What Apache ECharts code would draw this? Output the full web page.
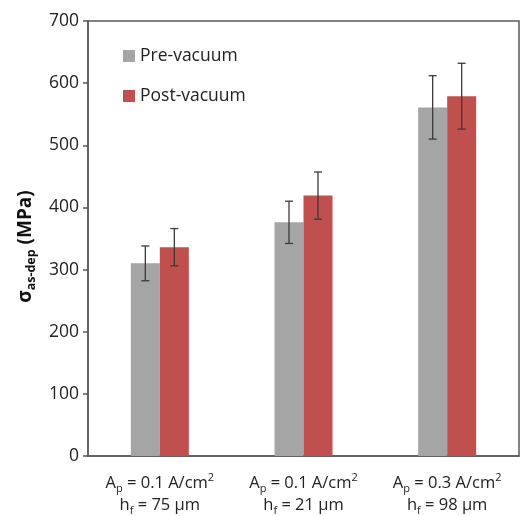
<!DOCTYPE html>
<html>
<head>
<meta charset="utf-8">
<script src="https://cdn.jsdelivr.net/npm/echarts@6/dist/echarts.min.js"></script>
<style>
  html, body { margin: 0; padding: 0; background: #fff; }
  #chart { width: 521px; height: 516px; }
</style>
</head>
<body>
<div id="chart"></div>
<script>
// categories: [Ap, hf]
const categories = [
  ['0.1', '75'],
  ['0.1', '21'],
  ['0.3', '98']
];
const preMean = [310, 376, 561];
const preErr = [28, 34, 51];
const postMean = [336, 419, 579];
const postErr = [30, 38, 53];
const yTicks = { min: 0, max: 700, interval: 100 };

const BAR_W = 29;
const FONT = '"Open Sans", "Noto Sans", sans-serif';

const chart = echarts.init(document.getElementById('chart'));

// error bars
function errorSeries(mean, err, shift) {
  return {
    type: 'custom',
    silent: true,
    z: 5,
    data: mean.map((m, i) => [i, m - err[i], m + err[i]]),
    renderItem: function (params, api) {
      const lo = api.coord([api.value(0), api.value(1)]);
      const hi = api.coord([api.value(0), api.value(2)]);
      const x = lo[0] + shift;
      const cap = 4;
      const style = { stroke: '#3a3a3a', lineWidth: 1.3 };
      return {
        type: 'group',
        children: [
          { type: 'line', shape: { x1: x, y1: lo[1], x2: x, y2: hi[1] }, style: style },
          { type: 'line', shape: { x1: x - cap, y1: lo[1], x2: x + cap, y2: lo[1] }, style: style },
          { type: 'line', shape: { x1: x - cap, y1: hi[1], x2: x + cap, y2: hi[1] }, style: style }
        ]
      };
    }
  };
}

chart.setOption({
  animation: false,
  textStyle: { fontFamily: FONT },
  grid: {
    left: 88,
    right: 2,
    top: 21,
    bottom: 60,
    show: true,
    borderColor: '#5a5a5a',
    borderWidth: 1.5
  },
  legend: {
    orient: 'vertical',
    left: 118,
    top: 42,
    itemWidth: 12,
    itemHeight: 12,
    itemGap: 22,
    icon: 'rect',
    textStyle: { fontSize: 17.5, color: '#222', fontFamily: FONT },
    data: ['Pre-vacuum', 'Post-vacuum']
  },
  xAxis: {
    type: 'category',
    data: categories.map((c, i) => i),
    axisLine: { lineStyle: { color: '#5a5a5a', width: 1.5 } },
    axisTick: { show: false },
    axisLabel: {
      margin: 16,
      interval: 0,
      formatter: function (v) {
        const c = categories[v];
        return '{t|A}{sub|p}{t| = ' + c[0] + ' A/cm}{sup|2}\n{t|h}{sub|f}{t| = ' + c[1] + ' µm}';
      },
      rich: {
        t: { fontSize: 16.5, color: '#222', fontFamily: FONT, lineHeight: 22 },
        sub: { fontSize: 11, color: '#222', fontFamily: FONT, verticalAlign: 'bottom', lineHeight: 14 },
        sup: { fontSize: 11, color: '#222', fontFamily: FONT, verticalAlign: 'top', lineHeight: 14 }
      }
    }
  },
  yAxis: {
    type: 'value',
    min: yTicks.min,
    max: yTicks.max,
    interval: yTicks.interval,
    axisLine: { show: true, lineStyle: { color: '#5a5a5a', width: 1.5 } },
    axisTick: { show: true, inside: false, length: 5, lineStyle: { color: '#5a5a5a', width: 1.5 } },
    splitLine: { show: false },
    axisLabel: { fontSize: 17.5, color: '#222', margin: 9, fontFamily: FONT },
    name: '{s|σ}{sub|as-dep}{s| (MPa)}',
    nameLocation: 'middle',
    nameGap: 47,
    nameRotate: 90,
    nameTextStyle: {
      padding: [0, 16, 0, 0],
      rich: {
        s: { fontSize: 19, fontWeight: 'bold', color: '#111', fontFamily: FONT, lineHeight: 24 },
        sub: { fontSize: 12.5, fontWeight: 'bold', color: '#111', fontFamily: FONT, verticalAlign: 'bottom', lineHeight: 15 }
      }
    }
  },
  series: [
    {
      name: 'Pre-vacuum',
      type: 'bar',
      barWidth: BAR_W,
      barGap: '0%',
      itemStyle: { color: '#a5a5a5' },
      data: preMean
    },
    {
      name: 'Post-vacuum',
      type: 'bar',
      barWidth: BAR_W,
      barGap: '0%',
      itemStyle: { color: '#c0504d' },
      data: postMean
    },
    errorSeries(preMean, preErr, -BAR_W / 2),
    errorSeries(postMean, postErr, BAR_W / 2)
  ]
});
</script>
</body>
</html>
